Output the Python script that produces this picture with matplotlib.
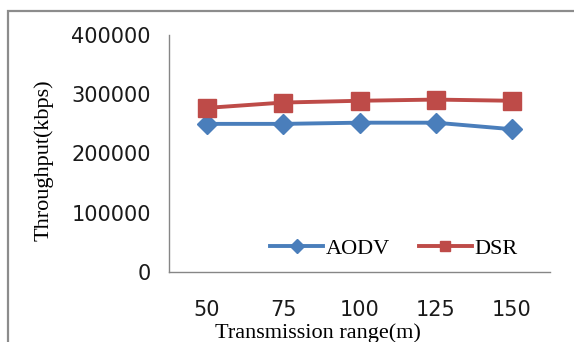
import matplotlib
matplotlib.use('Agg')
import matplotlib.pyplot as plt
from matplotlib.patches import Rectangle

# transmission range (m) vs throughput (kbps)
ranges = ['50', '75', '100', '125', '150']
aodv = [250000, 250000, 252000, 252000, 241000]
dsr = [277000, 286000, 289000, 291000, 289000]

fig = plt.figure(figsize=(5.74, 3.42), dpi=100)
fig.patches.append(Rectangle((8 / 574, -0.1), 1.2, 1 - 11 / 342 + 0.1,
                             transform=fig.transFigure, fill=False,
                             edgecolor='#8c8c8c', linewidth=1.6))

ax = fig.add_axes([169 / 574, 1 - 272 / 342, 381 / 574, 237 / 342])
x = range(len(ranges))
ax.plot(x, aodv, color='#4a7ebb', linewidth=2.8, marker='D', markersize=10.5,
        label='AODV')
ax.plot(x, dsr, color='#be4b48', linewidth=2.8, marker='s', markersize=13,
        label='DSR')

ax.set_xlim(-0.5, len(ranges) - 0.5)
ax.set_ylim(0, 400000)
ax.set_yticks([0, 100000, 200000, 300000, 400000])
ax.set_yticklabels(['0', '100000', '200000', '300000', '400000'])
ax.set_xticks(list(x))
ax.set_xticklabels(ranges)
ax.tick_params(length=0, labelsize=15, colors='#1a1a1a')
ax.tick_params(axis='y', pad=13)
ax.tick_params(axis='x', pad=20)

for side in ['top', 'right']:
    ax.spines[side].set_visible(False)
for side in ['left', 'bottom']:
    ax.spines[side].set_color('#868686')
    ax.spines[side].set_linewidth(1)

ax.set_ylabel('Throughput(kbps)', family='Liberation Serif', fontsize=16,
              va='center')
ax.yaxis.set_label_coords(-0.33, 0.47)
ax.set_xlabel('Transmission range(m)', family='Liberation Serif', fontsize=16,
              va='top')
ax.xaxis.set_label_coords(0.39, -0.215)

leg = ax.legend(loc='center', bbox_to_anchor=(0.59, 0.1), ncol=2,
                frameon=False, handlelength=2.4, columnspacing=1.3,
                handletextpad=0.1,
                prop={'family': 'Liberation Serif', 'size': 16})
for h in leg.legend_handles:
    h.set_markersize(7)

fig.savefig('out.png', dpi=100)
